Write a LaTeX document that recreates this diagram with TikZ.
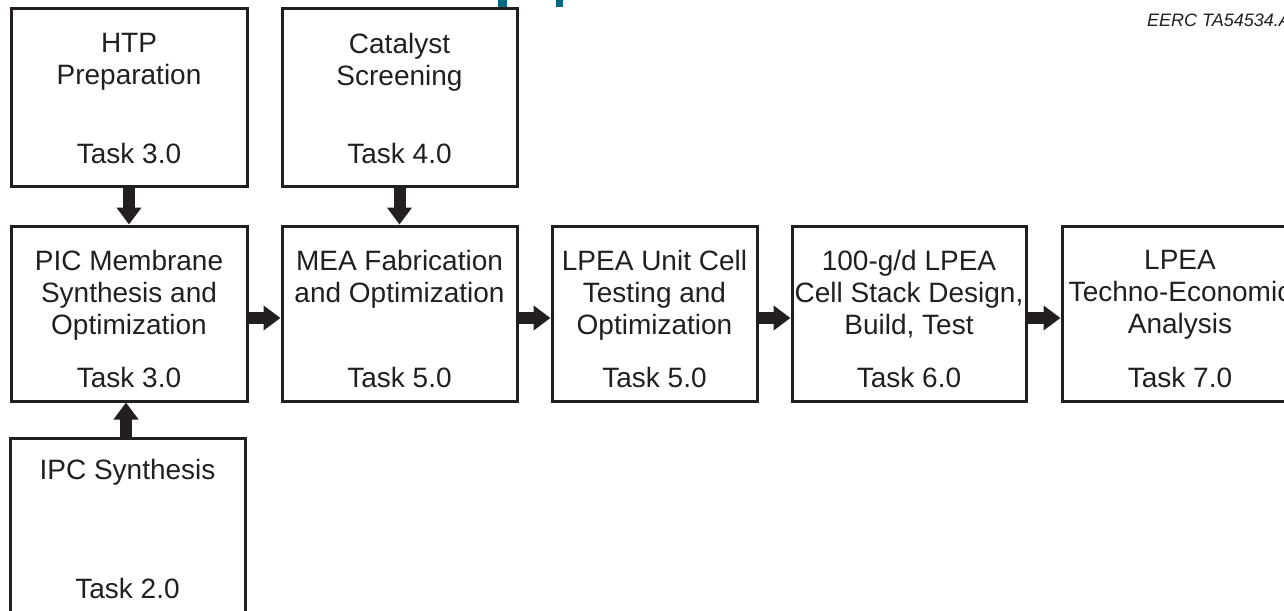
\documentclass[tikz,border=0pt]{standalone}
\usepackage{fontspec}
\setmainfont{Liberation Sans}
\usetikzlibrary{arrows.meta}
\definecolor{ink}{HTML}{231F20}
\definecolor{tealmark}{HTML}{00687F}
\begin{document}
\begin{tikzpicture}[x=1pt,y=-1pt,
  box/.style={draw=ink, line width=3pt, inner sep=0pt, fill=none},
  txt/.style={text=ink, font=\fontsize{28}{32}\selectfont, align=center, inner sep=0pt, anchor=north},
  tasktxt/.style={text=ink, font=\fontsize{28}{32}\selectfont, inner sep=0pt, anchor=base},
  flow/.style={draw=ink, line width=12pt, line cap=butt, -{Triangle[length=17pt,width=24pt]}}]
\useasboundingbox (0,0) rectangle (1284,610);
\clip (0,0) rectangle (1284,610);
% cut-off title fragments
\fill[tealmark] (498,0) rectangle (507,7);
\fill[tealmark] (556,0) rectangle (563,7);
\node[anchor=base west, inner sep=0pt, text=ink, font=\fontsize{18}{21}\selectfont\itshape] (ref) at (1147,27) {EERC TA54534.A};
% boxes
\node[box, minimum width=236pt, minimum height=177pt] (htp) at (129,97.5) {};
\node[box, minimum width=235pt, minimum height=177pt] (cat) at (399.5,97.5) {};
\node[box, minimum width=236pt, minimum height=175pt] (pic) at (129,313.5) {};
\node[box, minimum width=235pt, minimum height=175pt] (mea) at (399.5,313.5) {};
\node[box, minimum width=205pt, minimum height=175pt] (unit) at (654.5,313.5) {};
\node[box, minimum width=234pt, minimum height=175pt] (stack) at (909,313.5) {};
\node[box, minimum width=236pt, minimum height=175pt] (tea) at (1180,313.5) {};
\node[box, minimum width=235pt, minimum height=210pt] (ipc) at (127.5,543) {};
% texts
\node[txt] (htpT) at (129,33) {HTP\\Preparation};
\node[tasktxt] (htpK) at (129,163) {Task 3.0};
\node[txt] (catT) at (399.5,33) {Catalyst\\Screening};
\node[tasktxt] (catK) at (399.5,163) {Task 4.0};
\node[txt] (picT) at (129,250) {PIC Membrane\\Synthesis and\\Optimization};
\node[tasktxt] (picK) at (129,387) {Task 3.0};
\node[txt] (meaT) at (399.5,250) {MEA Fabrication\\and Optimization};
\node[tasktxt] (meaK) at (399.5,387) {Task 5.0};
\node[txt] (unitT) at (654.5,250) {LPEA Unit Cell\\Testing and\\Optimization};
\node[tasktxt] (unitK) at (654.5,387) {Task 5.0};
\node[txt] (stackT) at (909,250) {100-g/d LPEA\\Cell Stack Design,\\Build, Test};
\node[tasktxt] (stackK) at (909,387) {Task 6.0};
\node[txt] (teaT) at (1180,250) {LPEA\\Techno-Economic\\Analysis};
\node[tasktxt] (teaK) at (1180,387) {Task 7.0};
\node[txt] (ipcT) at (127.5,459) {IPC Synthesis};
\node[tasktxt] (ipcK) at (127.5,598) {Task 2.0};
% arrows
\draw[flow] (htp.south) -- (pic.north);
\draw[flow] (cat.south) -- (mea.north);
\draw[flow] ([xshift=-1.5pt]ipc.north) -- ([xshift=-1.5pt]ipc.north |- pic.south);
\draw[flow] ([yshift=-4.5pt]pic.east) -- ([yshift=-4.5pt]mea.west);
\draw[flow] ([yshift=-4.5pt]mea.east) -- ([yshift=-4.5pt]unit.west);
\draw[flow] ([yshift=-4.5pt]unit.east) -- ([yshift=-4.5pt]stack.west);
\draw[flow] ([yshift=-4.5pt]stack.east) -- ([yshift=-4.5pt]tea.west);
\end{tikzpicture}
\end{document}
